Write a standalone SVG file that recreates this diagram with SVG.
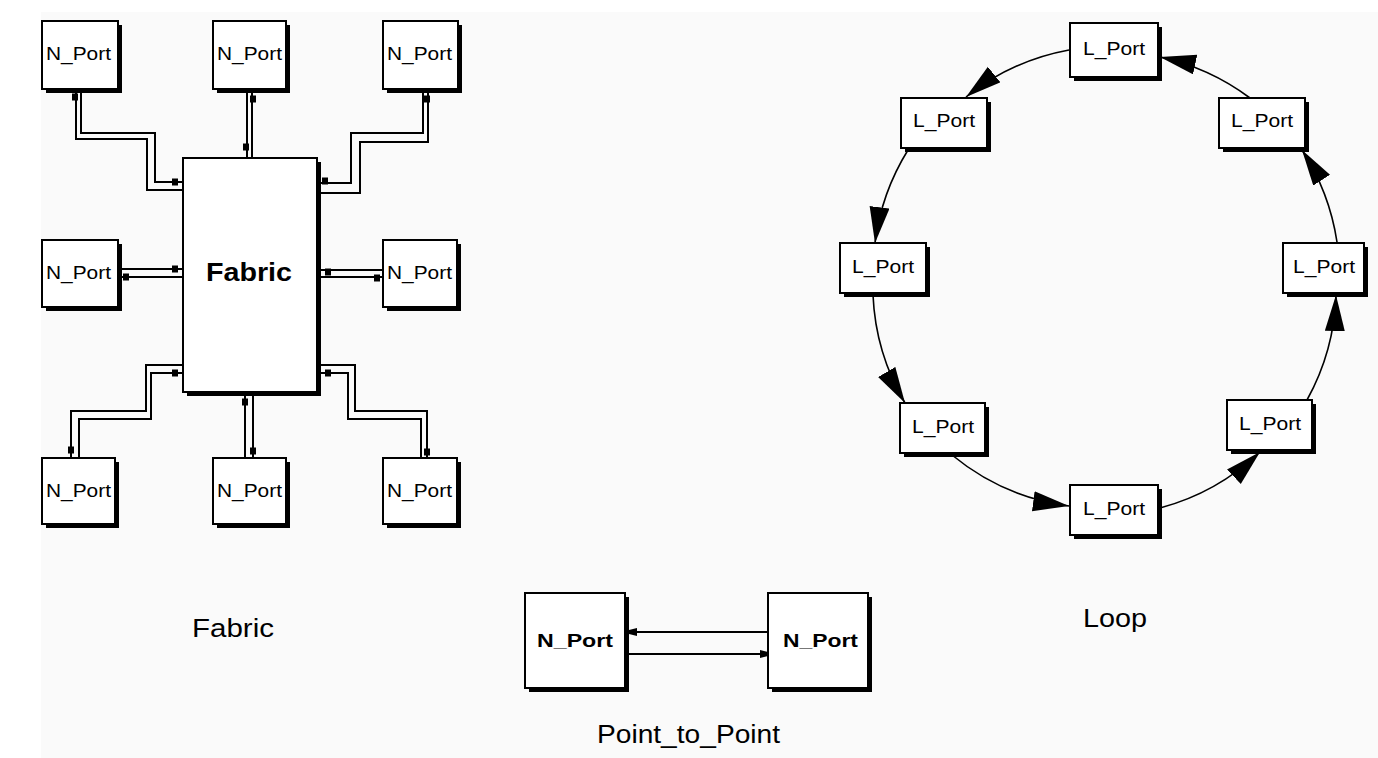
<svg xmlns="http://www.w3.org/2000/svg" xmlns:xlink="http://www.w3.org/1999/xlink" width="1378" height="758" viewBox="0 0 1378 758">
<style>
.box{fill:#fff;stroke:#000;stroke-width:2}
.sh{fill:#000}
.lbl{font-family:"Liberation Sans",Arial,sans-serif;font-size:18px;fill:#000}
.blbl{font-family:"Liberation Sans",Arial,sans-serif;font-weight:bold;fill:#000}
.cap{font-family:"Liberation Sans",Arial,sans-serif;font-size:25px;fill:#000}
.wire{fill:none;stroke:#000;stroke-width:2}
.arc{fill:none;stroke:#000;stroke-width:1.6;marker-end:url(#big)}
</style>
<defs>
<marker id="big" markerUnits="userSpaceOnUse" markerWidth="38" markerHeight="22" refX="36" refY="10" orient="auto">
<path d="M0,0 L36,10 L0,20 z" fill="#000"/>
</marker>
<rect id="blob" x="-3" y="-3.5" width="6" height="7" fill="#000"/>
<marker id="sm" markerUnits="userSpaceOnUse" markerWidth="10" markerHeight="10" refX="8" refY="5" orient="auto">
<path d="M0,1 L8,3 L8,7 L0,9 z" fill="#000"/>
</marker>
</defs>
<rect width="1378" height="758" fill="#fff"/>
<rect x="41" y="12" width="1337" height="746" fill="#fafafa"/>

<g id="connectors">
<path class="wire" d="M76,91 V139 H147 V190 H183"/>
<path class="wire" d="M81,91 V133 H155 V182 H183"/>
<path class="wire" d="M247,91 V158 M252,91 V158"/>
<path class="wire" d="M423,91 V133 H351 V183 H319"/>
<path class="wire" d="M428,91 V142 H360 V193 H319"/>
<path class="wire" d="M120,269 H183 M120,277 H183"/>
<path class="wire" d="M319,270 H383 M319,277 H383"/>
<path class="wire" d="M183,365 H146 V411 H71 V458"/>
<path class="wire" d="M183,373 H151 V419 H79 V458"/>
<path class="wire" d="M245,394 V458 M253,394 V458"/>
<path class="wire" d="M319,365 H355 V411 H427 V458"/>
<path class="wire" d="M319,373 H348 V419 H421 V458"/>
<use xlink:href="#blob" x="75" y="97"/>
<use xlink:href="#blob" x="175" y="182"/>
<use xlink:href="#blob" x="253" y="99"/>
<use xlink:href="#blob" x="246" y="147"/>
<use xlink:href="#blob" x="427" y="99"/>
<use xlink:href="#blob" x="325" y="181"/>
<use xlink:href="#blob" x="175" y="269"/>
<use xlink:href="#blob" x="126" y="277"/>
<use xlink:href="#blob" x="328" y="272"/>
<use xlink:href="#blob" x="377" y="278"/>
<use xlink:href="#blob" x="175" y="373"/>
<use xlink:href="#blob" x="71" y="450"/>
<use xlink:href="#blob" x="245" y="402"/>
<use xlink:href="#blob" x="253" y="451"/>
<use xlink:href="#blob" x="328" y="373"/>
<use xlink:href="#blob" x="427" y="452"/>

<path class="wire" d="M768,632 H629" marker-end="url(#sm)"/>
<path class="wire" d="M629,654 H768" marker-end="url(#sm)"/>

<path class="arc" d="M1069,50 A232,232 0 0,0 966,97"/>
<path class="arc" d="M908,150 A232,232 0 0,0 875,243"/>
<path class="arc" d="M873,295 A232,232 0 0,0 905,403"/>
<path class="arc" d="M952,455 A232,232 0 0,0 1069,506"/>
<path class="arc" d="M1160,508 A232,232 0 0,0 1260,452"/>
<path class="arc" d="M1307,400 A232,232 0 0,0 1336,295"/>
<path class="arc" d="M1337,242 A232,232 0 0,0 1302,150"/>
<path class="arc" d="M1250,98 A232,232 0 0,0 1160,57"/>
</g>

<g id="fabric">
<rect class="sh" x="187" y="162" width="134" height="234"/>
<rect class="box" x="183" y="158" width="134" height="234"/>
<text class="blbl" x="206" y="281" font-size="26" textLength="86" lengthAdjust="spacingAndGlyphs">Fabric</text>
</g>

<g id="nport-tl"><rect class="sh" x="46" y="25" width="76" height="68"/><rect class="box" x="42" y="21" width="76" height="68"/><text class="lbl" x="46" y="60" textLength="65" lengthAdjust="spacingAndGlyphs">N_Port</text></g>
<g id="nport-tm"><rect class="sh" x="217" y="25" width="73" height="68"/><rect class="box" x="213" y="21" width="73" height="68"/><text class="lbl" x="217" y="60" textLength="65" lengthAdjust="spacingAndGlyphs">N_Port</text></g>
<g id="nport-tr"><rect class="sh" x="387" y="25" width="75" height="68"/><rect class="box" x="383" y="21" width="75" height="68"/><text class="lbl" x="387" y="60" textLength="65" lengthAdjust="spacingAndGlyphs">N_Port</text></g>
<g id="nport-ml"><rect class="sh" x="46" y="244" width="76" height="67"/><rect class="box" x="42" y="240" width="76" height="67"/><text class="lbl" x="46" y="279" textLength="65" lengthAdjust="spacingAndGlyphs">N_Port</text></g>
<g id="nport-mr"><rect class="sh" x="387" y="244" width="74" height="67"/><rect class="box" x="383" y="240" width="74" height="67"/><text class="lbl" x="387" y="279" textLength="65" lengthAdjust="spacingAndGlyphs">N_Port</text></g>
<g id="nport-bl"><rect class="sh" x="46" y="462" width="73" height="66"/><rect class="box" x="42" y="458" width="73" height="66"/><text class="lbl" x="46" y="497" textLength="65" lengthAdjust="spacingAndGlyphs">N_Port</text></g>
<g id="nport-bm"><rect class="sh" x="217" y="462" width="73" height="66"/><rect class="box" x="213" y="458" width="73" height="66"/><text class="lbl" x="217" y="497" textLength="65" lengthAdjust="spacingAndGlyphs">N_Port</text></g>
<g id="nport-br"><rect class="sh" x="387" y="462" width="74" height="66"/><rect class="box" x="383" y="458" width="74" height="66"/><text class="lbl" x="387" y="497" textLength="65" lengthAdjust="spacingAndGlyphs">N_Port</text></g>

<g id="p2p-left"><rect class="sh" x="529" y="597" width="100" height="95"/><rect class="box" x="525" y="593" width="100" height="95"/><text class="blbl" x="537" y="647" font-size="19" textLength="76" lengthAdjust="spacingAndGlyphs">N_Port</text></g>
<g id="p2p-right"><rect class="sh" x="772" y="597" width="100" height="95"/><rect class="box" x="768" y="593" width="100" height="95"/><text class="blbl" x="783" y="647" font-size="19" textLength="75" lengthAdjust="spacingAndGlyphs">N_Port</text></g>

<g id="lport-top"><rect class="sh" x="1074" y="27" width="88" height="54"/><rect class="box" x="1070" y="23" width="88" height="54"/><text class="lbl" x="1083" y="55" textLength="62" lengthAdjust="spacingAndGlyphs">L_Port</text></g>
<g id="lport-ul"><rect class="sh" x="905" y="102" width="86" height="50"/><rect class="box" x="901" y="98" width="86" height="50"/><text class="lbl" x="913" y="127" textLength="62" lengthAdjust="spacingAndGlyphs">L_Port</text></g>
<g id="lport-l"><rect class="sh" x="844" y="247" width="86" height="50"/><rect class="box" x="840" y="243" width="86" height="50"/><text class="lbl" x="852" y="273" textLength="62" lengthAdjust="spacingAndGlyphs">L_Port</text></g>
<g id="lport-ll"><rect class="sh" x="904" y="407" width="85" height="50"/><rect class="box" x="900" y="403" width="85" height="50"/><text class="lbl" x="912" y="433" textLength="62" lengthAdjust="spacingAndGlyphs">L_Port</text></g>
<g id="lport-b"><rect class="sh" x="1074" y="489" width="88" height="50"/><rect class="box" x="1070" y="485" width="88" height="50"/><text class="lbl" x="1083" y="515" textLength="62" lengthAdjust="spacingAndGlyphs">L_Port</text></g>
<g id="lport-lr"><rect class="sh" x="1231" y="404" width="85" height="50"/><rect class="box" x="1227" y="400" width="85" height="50"/><text class="lbl" x="1239" y="430" textLength="62" lengthAdjust="spacingAndGlyphs">L_Port</text></g>
<g id="lport-r"><rect class="sh" x="1287" y="247" width="81" height="50"/><rect class="box" x="1283" y="243" width="81" height="50"/><text class="lbl" x="1293" y="273" textLength="62" lengthAdjust="spacingAndGlyphs">L_Port</text></g>
<g id="lport-ur"><rect class="sh" x="1223" y="102" width="86" height="50"/><rect class="box" x="1219" y="98" width="86" height="50"/><text class="lbl" x="1231" y="127" textLength="62" lengthAdjust="spacingAndGlyphs">L_Port</text></g>

<text class="cap" x="192" y="637" textLength="82" lengthAdjust="spacingAndGlyphs">Fabric</text>
<text class="cap" x="1083" y="627" textLength="64" lengthAdjust="spacingAndGlyphs">Loop</text>
<text class="cap" x="597" y="743" textLength="183" lengthAdjust="spacingAndGlyphs">Point_to_Point</text>
</svg>
